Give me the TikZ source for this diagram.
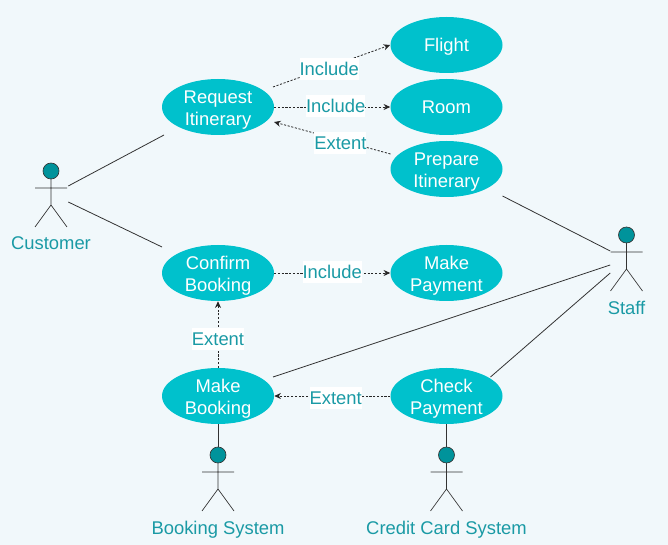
\documentclass[tikz,border=0pt]{standalone}
\usepackage{fontspec}
\setmainfont{Liberation Sans}
\usetikzlibrary{shapes.geometric,arrows.meta,calc}
\definecolor{bgc}{HTML}{F1F8FB}
\definecolor{ucfill}{HTML}{00C1CC}
\definecolor{headc}{HTML}{00939B}
\definecolor{txtc}{HTML}{1A9AA5}
\definecolor{linec}{HTML}{333333}
\tikzset{
  ucbase/.style={ellipse,fill=ucfill,text=white,inner sep=-14pt,minimum width=84pt,minimum height=42pt,align=center,font=\fontsize{13.8}{16.5}\selectfont},
  uc/.style={ucbase,text depth=0pt,text height=27.8pt},
  ucone/.style={ucbase,text depth=0pt,text height=9.8pt},
  assoc/.style={draw=linec,line width=.6pt},
  dep/.style={draw=black!85,line width=.6pt,dash pattern=on 1.6pt off 1.2pt,-{Stealth[length=5pt,width=4.5pt]}},
  lbl/.style={fill=white,text=txtc,inner xsep=0pt,inner ysep=0pt,minimum height=17pt,font=\fontsize{13.8}{16.5}\selectfont},
  actorbox/.style={inner sep=0pt,minimum width=24pt,minimum height=48pt},
  actorname/.style={text=txtc,inner sep=0pt,font=\fontsize{13.8}{16.5}\selectfont},
  limb/.style={draw=linec,line width=.5pt},
  headst/.style={draw=linec,fill=headc,line width=.5pt},
}
\newcommand{\umlactor}[5]{%
  \node[actorbox] (#1) at (#2,#3+24) {};
  \draw[headst] (#2,#3) circle[radius=6pt];
  \draw[limb] (#2,#3+8) -- (#2,#3+34) (#2-16,#3+17) -- (#2+16,#3+17)
     (#2-16,#3+56) -- (#2,#3+34) -- (#2+16,#3+56);
  \node[actorname] (#1name) at (#2,#3+#4) {#5};
}
\begin{document}
\begin{tikzpicture}[x=.75pt,y=-.75pt]
\useasboundingbox (0,0) rectangle (668,545);
\fill[bgc] (0,0) rectangle (668,545);
\node[ucone] (flight) at (446.5,45) {Flight};
\node[ucone] (room) at (446.5,107) {Room};
\node[uc] (prepare) at (446.5,169) {Prepare\\Itinerary};
\node[uc] (request) at (218,107) {Request\\Itinerary};
\node[uc] (confirm) at (218,273) {Confirm\\Booking};
\node[uc] (payment) at (446.5,273) {Make\\Payment};
\node[uc] (make) at (218,396) {Make\\Booking};
\node[uc] (check) at (446.5,396) {Check\\Payment};
\umlactor{customer}{51}{171}{72}{Customer}
\umlactor{bsys}{218}{455}{75}{Booking System}
\umlactor{ccsys}{446.5}{455}{75}{Credit Card System}
\umlactor{staff}{626.5}{235}{73}{Staff}
\draw[assoc] ($(customer.east)+(1,-9)$) -- ($(request.center)+(-54,28)$);
\draw[assoc] ($(customer.east)+(1,7)$) -- ($(confirm.center)+(-56,-26)$);
\draw[assoc] ($(prepare.center)+(56,27)$) -- ($(staff.west)+(0,-8)$);
\draw[assoc] ($(make.center)+(55,-19)$) -- ($(staff.west)+(0,6)$);
\draw[assoc] ($(check.center)+(44,-19)$) -- ($(staff.west)+(0,14)$);
\draw[assoc] (make.south) -- (bsys.north);
\draw[assoc] (check.south) -- (ccsys.north);
\draw[dep] ($(request.center)+(55,-20)$) -- node[lbl,pos=.48,yshift=-1.5pt]{Include} (flight.west);
\draw[dep] (request.east) -- node[lbl,pos=.53,yshift=.75pt]{Include} (room.west);
\draw[dep] ($(prepare.center)+(-56,-15)$) -- node[lbl,pos=.43,yshift=-2pt]{Extent} ($(request.center)+(56,15)$);
\draw[dep] (confirm.east) -- node[lbl,pos=.5,yshift=.75pt]{Include} (payment.west);
\draw[dep] (make.north) -- node[lbl,pos=.43]{Extent} (confirm.south);
\draw[dep] (check.west) -- node[lbl,pos=.47,yshift=-1.5pt]{Extent} (make.east);
\end{tikzpicture}
\end{document}
